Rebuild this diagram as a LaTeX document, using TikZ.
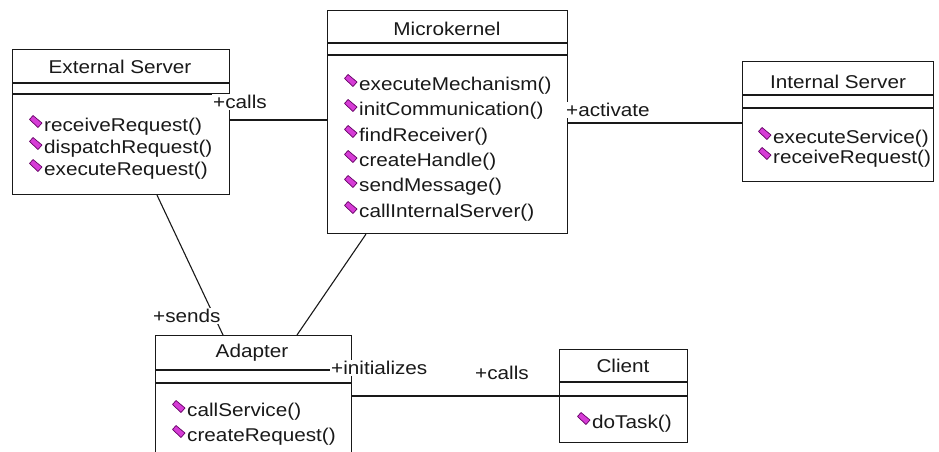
\documentclass[tikz,border=0pt]{standalone}
\usepackage{fontspec}
\setmainfont{Liberation Sans}[FakeStretch=1.12]
\usetikzlibrary{calc}
\definecolor{opfill}{RGB}{214,60,214}
\definecolor{opedge}{RGB}{100,0,100}
\definecolor{ink}{RGB}{25,25,25}
\tikzset{
  cls/.style={draw=ink, line width=1.1pt, rectangle, inner sep=0pt, anchor=north west},
  ttl/.style={font=\fontsize{18.5}{20}\selectfont, inner sep=0pt, text=ink},
  meth/.style={font=\fontsize{18.5}{20}\selectfont, inner sep=0pt, anchor=west, text=ink},
  role/.style={font=\fontsize{18.5}{20}\selectfont, fill=white, inner sep=1pt, anchor=west, text=ink},
  conn/.style={draw=ink, line width=1.1pt},
  op/.pic={\path[fill=opfill, draw=opedge, line width=0.7pt, line join=round]
      (-3,-6) -- (6,1.5) -- (2,6) -- (-6.5,-2) -- cycle;}
}
\begin{document}
\begin{tikzpicture}[x=1pt,y=-1pt]
\useasboundingbox (0,0) rectangle (939,452);
\fill[white] (0,0) rectangle (939,452);
\clip (0,0) rectangle (939,452);

% classes
\node[cls, minimum width=217pt, minimum height=145pt] (es) at (12,49) {};
\node[cls, minimum width=240pt, minimum height=223pt] (mk) at (327,10) {};
\node[cls, minimum width=191pt, minimum height=120pt] (is) at (742,61) {};
\node[cls, minimum width=196pt, minimum height=140pt] (ad) at (155,335) {};
\node[cls, minimum width=128pt, minimum height=93pt] (cl) at (559,349) {};

% dividers
\foreach \b/\da/\db in {es/34/45, mk/33/45, is/34/47, ad/35/48, cl/33/47}{
  \draw[conn] ($(\b.north west)+(0,\da)$) -- ($(\b.north east)+(0,\da)$);
  \draw[conn] ($(\b.north west)+(0,\db)$) -- ($(\b.north east)+(0,\db)$);
}

% titles
\node[ttl] (es-t) at (120,67) {External Server};
\node[ttl] (mk-t) at (447,29) {Microkernel};
\node[ttl] (is-t) at (838,82) {Internal Server};
\node[ttl] (ad-t) at (252,353) {Adapter};
\node[ttl] (cl-t) at (623,366) {Client};

% operations
\foreach \n/\x/\y/\t in {
  es1/44/127/receiveRequest(), es2/44/149/dispatchRequest(), es3/44/171/executeRequest(),
  mk1/359/86/executeMechanism(), mk2/359/111/initCommunication(), mk3/359/137/findReceiver(),
  mk4/359/162/createHandle(), mk5/359/187/sendMessage(), mk6/359/213/callInternalServer(),
  is1/773/139/executeService(), is2/773/159/receiveRequest(),
  ad1/187/412/callService(), ad2/187/437/createRequest(),
  cl1/592/424/doTask()}{
  \node[meth] (\n) at (\x,\y) {\t};
  \pic at ($(\n.west)+(-8,-5.5)$) {op};
}

% connectors
\draw[conn] (es.east |- 0,120) -- (mk.west |- 0,120);
\draw[conn] (mk.east |- 0,123) -- (is.west |- 0,123);
\draw[conn] ($(es.south west)+(145,0)$) -- ($(ad.north west)+(68,0)$);
\draw[conn] ($(mk.south west)+(39,0)$) -- ($(ad.north west)+(142,0)$);
\draw[conn] (ad.east |- 0,396) -- (cl.west |- 0,396);

% role labels
\node[role] (r1) at (212,102) {+calls};
\node[role] (r2) at (565,110) {+activate};
\node[role] (r3) at (152,316) {+sends};
\node[role] (r4) at (330,368) {+initializes};
\node[role] (r5) at (474,373) {+calls};
\end{tikzpicture}
\end{document}
